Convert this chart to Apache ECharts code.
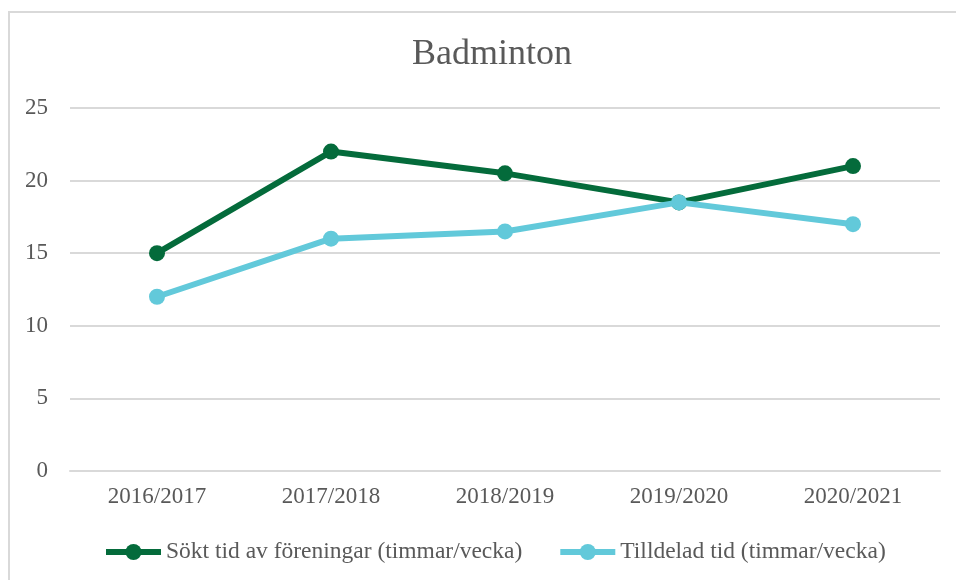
<!DOCTYPE html>
<html>
<head>
<meta charset="utf-8">
<style>
  html, body { margin: 0; padding: 0; background: #fff; }
  #chart { width: 956px; height: 580px; }
</style>
<script src="https://cdn.jsdelivr.net/npm/echarts@6/dist/echarts.min.js"></script>
</head>
<body>
<div id="chart"></div>
<script>
  // Seasons on the x axis, hours per week on y.
  const seasons = ["2016/2017", "2017/2018", "2018/2019", "2019/2020", "2020/2021"];
  const requested = [15, 22, 20.5, 18.5, 21];   // Sökt tid av föreningar
  const allotted = [12, 16, 16.5, 18.5, 17];    // Tilldelad tid

  const FONT = "'Liberation Serif', 'DejaVu Serif', serif";
  const INK = "#595959";
  const GRID = "#d9d9d9";
  const GREEN = "#046b3b";
  const BLUE = "#62c9da";

  const lineSeries = (name, data, color, z) => ({
    name, type: "line", data, z,
    symbol: "circle", symbolSize: 16,
    lineStyle: { color, width: 6 },
    itemStyle: { color },
  });

  const chart = echarts.init(document.getElementById("chart"), null, { renderer: "canvas" });
  chart.setOption({
    animation: false,
    backgroundColor: "#fff",
    textStyle: { fontFamily: FONT, color: INK },
    graphic: [{
      type: "rect", silent: true,
      shape: { x: 9, y: 12, width: 1100, height: 1100 },
      style: { fill: "none", stroke: GRID, lineWidth: 2 },
    }],
    title: {
      text: "Badminton", left: 407, top: 32,
      textStyle: { fontFamily: FONT, fontSize: 36, fontWeight: "normal", color: INK },
    },
    legend: {
      left: 98, top: 535, itemGap: 35, itemWidth: 55, itemHeight: 20,
      lineStyle: { width: 6 },
      textStyle: { fontFamily: FONT, fontSize: 23.5, color: INK },
    },
    grid: { left: 70, right: 16, top: 108, bottom: 109 },
    xAxis: {
      type: "category", data: seasons, boundaryGap: true,
      axisLine: { lineStyle: { color: GRID, width: 2 } },
      axisTick: { show: false },
      axisLabel: { color: INK, fontFamily: FONT, fontSize: 23, margin: 14 },
    },
    yAxis: {
      type: "value", min: 0, max: 25, interval: 5,
      axisLine: { show: false }, axisTick: { show: false },
      axisLabel: { color: INK, fontFamily: FONT, fontSize: 23, margin: 22 },
      splitLine: { lineStyle: { color: GRID, width: 2 } },
    },
    series: [
      lineSeries("Sökt tid av föreningar (timmar/vecka)", requested, GREEN, 2),
      lineSeries("Tilldelad tid (timmar/vecka)", allotted, BLUE, 3),
    ],
  });
</script>
</body>
</html>
